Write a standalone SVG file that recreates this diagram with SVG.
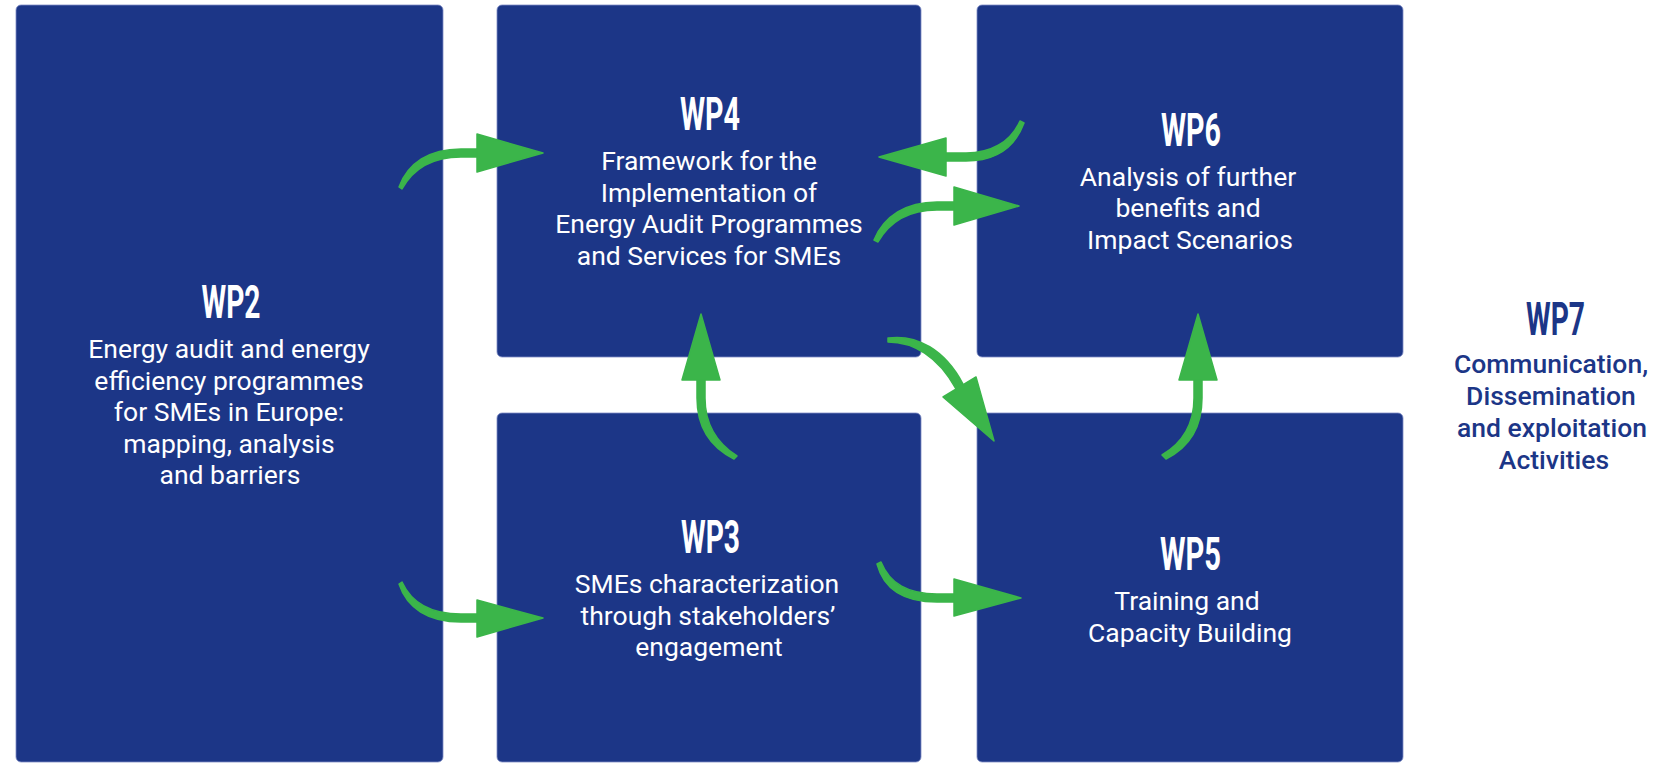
<svg xmlns="http://www.w3.org/2000/svg" width="1654" height="763" viewBox="0 0 1654 763">
<style>
.box{fill:#1c3687;stroke:#7d8cc4;stroke-width:0.8}
.title{font-family:Roboto,"Liberation Sans",sans-serif;font-weight:700;font-size:46px;fill:#ffffff;text-anchor:middle}
.body{font-family:Roboto,"Liberation Sans",sans-serif;font-weight:400;font-size:26.5px;fill:#ffffff;text-anchor:middle}
.t7{fill:#1c3687}
.b7{font-family:Roboto,"Liberation Sans",sans-serif;font-weight:500;font-size:26.5px;fill:#1c3687;text-anchor:middle}
.arr{fill:#3bb54a;stroke:#3bb54a;stroke-width:1.5;stroke-linejoin:round}
</style>
<rect width="1654" height="763" fill="#ffffff"/>
<g id="wp2">
<rect class="box" x="16" y="5" width="427" height="757" rx="5"/>
<text class="title" x="231" y="318" textLength="59" lengthAdjust="spacingAndGlyphs">WP2</text>
<text class="body" x="229" y="358">Energy audit and energy</text>
<text class="body" x="229" y="389.5">efficiency programmes</text>
<text class="body" x="229" y="421">for SMEs in Europe:</text>
<text class="body" x="229" y="452.5">mapping, analysis</text>
<text class="body" x="230" y="484">and barriers</text>
</g>
<g id="wp4">
<rect class="box" x="497" y="5" width="424" height="352" rx="5"/>
<text class="title" x="710" y="130" textLength="60" lengthAdjust="spacingAndGlyphs">WP4</text>
<text class="body" x="709" y="170">Framework for the</text>
<text class="body" x="709" y="201.5">Implementation of</text>
<text class="body" x="709" y="233">Energy Audit Programmes</text>
<text class="body" x="709" y="264.5">and Services for SMEs</text>
</g>
<g id="wp6">
<rect class="box" x="977" y="5" width="426" height="352" rx="5"/>
<text class="title" x="1191" y="146" textLength="60" lengthAdjust="spacingAndGlyphs">WP6</text>
<text class="body" x="1188" y="186">Analysis of further</text>
<text class="body" x="1188" y="217">benefits and</text>
<text class="body" x="1190" y="248.5">Impact Scenarios</text>
</g>
<g id="wp3">
<rect class="box" x="497" y="413" width="424" height="349" rx="5"/>
<text class="title" x="710.5" y="553" textLength="59" lengthAdjust="spacingAndGlyphs">WP3</text>
<text class="body" x="707" y="593">SMEs characterization</text>
<text class="body" x="708" y="624.5">through stakeholders’</text>
<text class="body" x="709" y="656">engagement</text>
</g>
<g id="wp5">
<rect class="box" x="977" y="413" width="426" height="349" rx="5"/>
<text class="title" x="1190.5" y="570" textLength="61" lengthAdjust="spacingAndGlyphs">WP5</text>
<text class="body" x="1187" y="610">Training and</text>
<text class="body" x="1190" y="642">Capacity Building</text>
</g>
<g id="wp7">
<text class="title t7" x="1555.5" y="335" textLength="59" lengthAdjust="spacingAndGlyphs">WP7</text>
<text class="b7" x="1551" y="373">Communication,</text>
<text class="b7" x="1551" y="405">Dissemination</text>
<text class="b7" x="1552" y="437">and exploitation</text>
<text class="b7" x="1554" y="468.5">Activities</text>
</g>
<g id="connectors">
<!-- WP2 -> WP4 -->
<path class="arr" d="M399,187 C408,163 429,149 461,149 L479,149 L479,157 L461,157 C433,157 413,169 402,189 Z"/>
<polygon class="arr" points="477,134 543,153 477,172"/>
<!-- WP2 -> WP3 -->
<path class="arr" d="M402,582 C412,604 432,614 461,614 L479,614 L479,622 L461,622 C428,622 407,608 399,584 Z"/>
<polygon class="arr" points="477,600 543,618 477,637"/>
<!-- WP3 -> WP4 -->
<path class="arr" d="M697,378 L697,398 C697,424 708,446 734,459 L737,456 C715,442 705,423 705,398 L705,378 Z"/>
<polygon class="arr" points="682,380 701,314 720,380"/>
<!-- WP5 -> WP6 -->
<path class="arr" d="M1194,378 L1194,398 C1194,423 1184,442 1162,455 L1166,459 C1192,446 1202,425 1202,398 L1202,378 Z"/>
<polygon class="arr" points="1179,380 1198,314 1217,380"/>
<!-- WP4 -> WP6 -->
<path class="arr" d="M874,240 C884,216 906,202 937,202 L956,202 L956,210 L937,210 C910,210 890,221 878,242 Z"/>
<polygon class="arr" points="954,187 1019,206 954,225"/>
<!-- WP6 -> WP4 -->
<path class="arr" d="M944,153 L966,153 C990,153 1010,143 1020,121 L1024,123 C1014,150 994,161 966,161 L944,161 Z"/>
<polygon class="arr" points="946,138 879,157 946,176"/>
<!-- WP4 -> WP5 -->
<path class="arr" d="M888,338 C917,334 945,350 963,384 L956,389 C938,356 913,342 888,342 Z"/>
<polygon class="arr" points="943,397 976,377 994,441"/>
<!-- WP3 -> WP5 -->
<path class="arr" d="M881,562 C890,584 908,594 937,594 L956,594 L956,602 L937,602 C904,602 884,590 877,564 Z"/>
<polygon class="arr" points="954,579 1021,598 954,616"/>
</g>
</svg>
